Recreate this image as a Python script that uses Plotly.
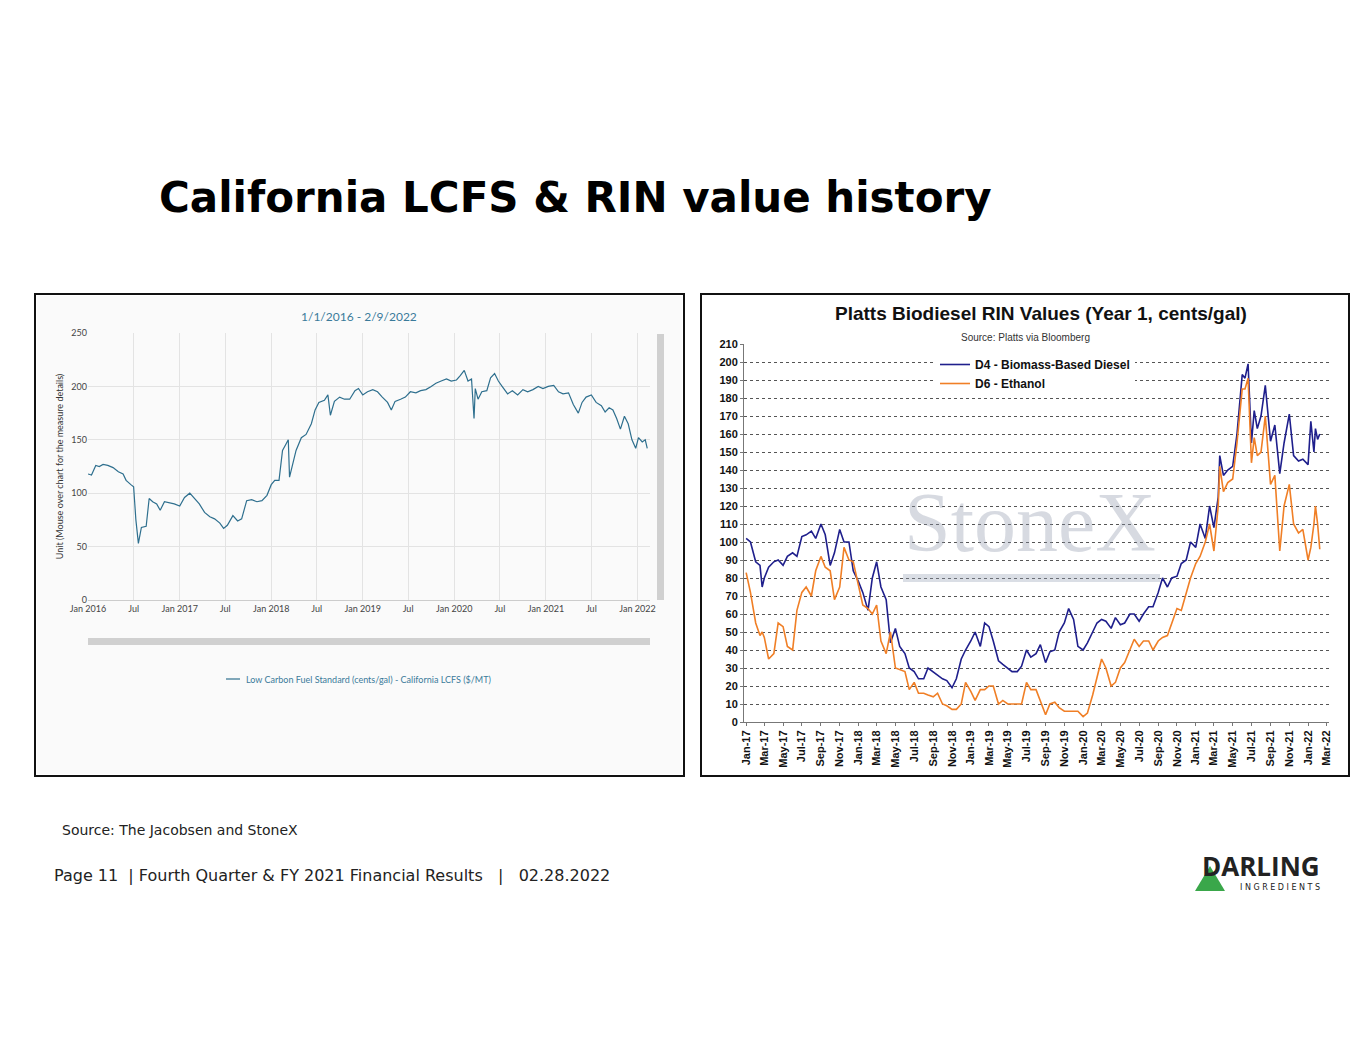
import plotly.graph_objects as go

W, H = 1365, 1055

# ---- Left chart: California LCFS ($/MT) ----
lcfs_dates = [
    "2016-01-01", "2016-01-15", "2016-02-01", "2016-02-15", "2016-03-01", "2016-03-20", "2016-04-10",
    "2016-05-01", "2016-05-20", "2016-06-01", "2016-06-20", "2016-07-01", "2016-07-10", "2016-07-20",
    "2016-08-01", "2016-08-20", "2016-09-01", "2016-09-15", "2016-10-01", "2016-10-15", "2016-11-01",
    "2016-11-20", "2016-12-10", "2017-01-01", "2017-01-20", "2017-02-10", "2017-03-01", "2017-03-20",
    "2017-04-10", "2017-05-01", "2017-05-20", "2017-06-10", "2017-06-25", "2017-07-10", "2017-08-01",
    "2017-08-20", "2017-09-05", "2017-09-25", "2017-10-15", "2017-11-05", "2017-11-25", "2017-12-15",
    "2018-01-01", "2018-01-15", "2018-02-01", "2018-02-15", "2018-03-01", "2018-03-10", "2018-03-15",
    "2018-03-25", "2018-04-10", "2018-05-01", "2018-05-20", "2018-06-10", "2018-06-25", "2018-07-10",
    "2018-08-01", "2018-08-15", "2018-08-25", "2018-09-10", "2018-10-01", "2018-10-20", "2018-11-10",
    "2018-12-01", "2018-12-15", "2019-01-01", "2019-01-20", "2019-02-10", "2019-03-01", "2019-03-20",
    "2019-04-10", "2019-04-25", "2019-05-10", "2019-06-01", "2019-06-20", "2019-07-10", "2019-08-01",
    "2019-08-20", "2019-09-10", "2019-10-01", "2019-10-20", "2019-11-10", "2019-12-01", "2019-12-20",
    "2020-01-10", "2020-01-25", "2020-02-10", "2020-02-25", "2020-03-10", "2020-03-20", "2020-03-25",
    "2020-04-05", "2020-04-20", "2020-05-10", "2020-05-25", "2020-06-10", "2020-06-25", "2020-07-10",
    "2020-08-01", "2020-08-20", "2020-09-10", "2020-10-01", "2020-10-20", "2020-11-10", "2020-12-01",
    "2020-12-20", "2021-01-10", "2021-02-01", "2021-02-20", "2021-03-10", "2021-04-01", "2021-04-20",
    "2021-05-10", "2021-05-25", "2021-06-10", "2021-07-01", "2021-07-20", "2021-08-10", "2021-08-25",
    "2021-09-10", "2021-09-25", "2021-10-10", "2021-10-25", "2021-11-10", "2021-11-25", "2021-12-10",
    "2021-12-25", "2022-01-05", "2022-01-20", "2022-02-01", "2022-02-09",
]
lcfs_values = [
    118, 117, 126, 125, 127, 126, 124,
    120, 118, 112, 108, 106, 75, 53,
    68, 69, 95, 92, 90, 84, 92,
    91, 90, 88, 96, 100, 95, 90,
    82, 78, 76, 72, 67, 70, 79,
    74, 76, 93, 94, 92, 93, 98,
    108, 112, 112, 140, 146, 150, 115,
    125, 140, 152, 155, 165, 178, 185,
    187, 192, 173, 186, 190, 188, 188,
    196, 198, 192, 195, 197, 195, 190,
    185, 178, 186, 188, 190, 195, 194,
    196, 197, 200, 203, 205, 207, 205,
    206, 210, 215, 205, 207, 170, 198,
    188, 195, 196, 208, 212, 205, 200,
    193, 196, 192, 197, 195, 197, 200,
    198, 200, 201, 195, 193, 194, 183,
    175, 185, 190, 192, 185, 182, 176,
    180, 178, 170, 160, 172, 165, 150,
    142, 152, 148, 150, 142,
]
lcfs_tickvals = ["2016-01-01", "2016-07-01", "2017-01-01", "2017-07-01", "2018-01-01", "2018-07-01",
                 "2019-01-01", "2019-07-01", "2020-01-01", "2020-07-01", "2021-01-01", "2021-07-01",
                 "2022-01-01"]
lcfs_ticktext = ["Jan 2016", "Jul", "Jan 2017", "Jul", "Jan 2018", "Jul", "Jan 2019", "Jul",
                 "Jan 2020", "Jul", "Jan 2021", "Jul", "Jan 2022"]

# ---- Right chart: RIN values (cents/gal) ----
rin_dates = [
    "2017-01-01", "2017-01-15", "2017-02-01", "2017-02-15", "2017-02-22", "2017-03-01", "2017-03-15",
    "2017-04-01", "2017-04-15", "2017-05-01", "2017-05-15", "2017-06-01", "2017-06-15", "2017-07-01",
    "2017-07-15", "2017-08-01", "2017-08-15", "2017-09-01", "2017-09-15", "2017-10-01", "2017-10-15",
    "2017-11-01", "2017-11-15", "2017-12-01", "2017-12-15", "2018-01-01", "2018-01-15", "2018-02-01",
    "2018-02-15", "2018-03-01", "2018-03-15", "2018-04-01", "2018-04-15", "2018-05-01", "2018-05-15",
    "2018-06-01", "2018-06-15", "2018-07-01", "2018-07-15", "2018-08-01", "2018-08-15", "2018-09-01",
    "2018-09-15", "2018-10-01", "2018-10-15", "2018-11-01", "2018-11-15", "2018-12-01", "2018-12-15",
    "2019-01-01", "2019-01-15", "2019-02-01", "2019-02-15", "2019-03-01", "2019-03-15", "2019-04-01",
    "2019-04-15", "2019-05-01", "2019-05-15", "2019-06-01", "2019-06-15", "2019-07-01", "2019-07-15",
    "2019-08-01", "2019-08-15", "2019-09-01", "2019-09-15", "2019-10-01", "2019-10-15", "2019-11-01",
    "2019-11-15", "2019-12-01", "2019-12-15", "2020-01-01", "2020-01-15", "2020-02-01", "2020-02-15",
    "2020-03-01", "2020-03-15", "2020-04-01", "2020-04-15", "2020-05-01", "2020-05-15", "2020-06-01",
    "2020-06-15", "2020-07-01", "2020-07-15", "2020-08-01", "2020-08-15", "2020-09-01", "2020-09-15",
    "2020-10-01", "2020-10-15", "2020-11-01", "2020-11-15", "2020-12-01", "2020-12-15", "2021-01-01",
    "2021-01-15", "2021-02-01", "2021-02-15", "2021-03-01", "2021-03-15", "2021-03-20", "2021-04-01",
    "2021-04-15", "2021-05-01", "2021-05-15", "2021-06-01", "2021-06-10", "2021-06-20", "2021-07-01",
    "2021-07-10", "2021-07-20", "2021-08-01", "2021-08-15", "2021-09-01", "2021-09-15", "2021-10-01",
    "2021-10-15", "2021-11-01", "2021-11-15", "2021-12-01", "2021-12-15", "2022-01-01", "2022-01-10",
    "2022-01-20", "2022-01-25", "2022-02-01", "2022-02-08",
]
d4_values = [
    102, 100, 89, 87, 75, 80, 86,
    89, 90, 87, 92, 94, 92, 103,
    104, 106, 102, 110, 104, 87, 94,
    107, 100, 100, 84, 78, 72, 62,
    80, 89, 75, 68, 44, 52, 42,
    38, 30, 28, 24, 24, 30, 28,
    26, 24, 23, 19, 24, 35, 40,
    45, 50, 42, 55, 53, 45, 34,
    32, 30, 28, 28, 31, 40, 36,
    38, 43, 33, 39, 40, 50, 55,
    63, 57, 42, 40, 44, 50, 55,
    57, 56, 52, 58, 54, 55, 60,
    60, 56, 60, 64, 64, 72, 80,
    75, 80, 81, 88, 90, 100, 97,
    110, 102, 120, 108, 125, 148, 137,
    140, 142, 160, 193, 191, 199, 155,
    173, 163, 170, 187, 156, 165, 138,
    155, 171, 148, 145, 146, 143, 167,
    150, 163, 157, 160,
]
d6_values = [
    83, 72, 55, 48, 50, 47, 35,
    38, 55, 53, 42, 40, 62, 72,
    75, 70, 84, 92, 86, 84, 68,
    75, 97, 90, 89, 75, 65, 63,
    60, 65, 45, 38, 50, 30, 29,
    28, 18, 22, 16, 16, 15, 14,
    16, 10, 9, 7, 7, 10, 22,
    17, 12, 18, 18, 20, 20, 10,
    12, 10, 10, 10, 10, 22, 18,
    18, 12, 4, 10, 11, 8, 6,
    6, 6, 6, 3, 5, 15, 25,
    35, 30, 20, 22, 30, 33, 40,
    46, 42, 45, 45, 40, 45, 47,
    48, 55, 63, 62, 72, 80, 88,
    92, 100, 110, 95, 120, 142, 128,
    133, 135, 155, 185, 185, 191, 144,
    158, 148, 150, 170, 132, 137, 95,
    120, 132, 110, 105, 107, 90, 97,
    110, 120, 110, 96,
]
rin_tickvals = ["2017-01-01", "2017-03-01", "2017-05-01", "2017-07-01", "2017-09-01", "2017-11-01",
                "2018-01-01", "2018-03-01", "2018-05-01", "2018-07-01", "2018-09-01", "2018-11-01",
                "2019-01-01", "2019-03-01", "2019-05-01", "2019-07-01", "2019-09-01", "2019-11-01",
                "2020-01-01", "2020-03-01", "2020-05-01", "2020-07-01", "2020-09-01", "2020-11-01",
                "2021-01-01", "2021-03-01", "2021-05-01", "2021-07-01", "2021-09-01", "2021-11-01",
                "2022-01-01", "2022-03-01"]
rin_ticktext = ["Jan-17", "Mar-17", "May-17", "Jul-17", "Sep-17", "Nov-17",
                "Jan-18", "Mar-18", "May-18", "Jul-18", "Sep-18", "Nov-18",
                "Jan-19", "Mar-19", "May-19", "Jul-19", "Sep-19", "Nov-19",
                "Jan-20", "Mar-20", "May-20", "Jul-20", "Sep-20", "Nov-20",
                "Jan-21", "Mar-21", "May-21", "Jul-21", "Sep-21", "Nov-21",
                "Jan-22", "Mar-22"]


def px(x):
    return x / W


def py(y):
    return 1 - y / H


fig = go.Figure()
fig.add_trace(go.Scatter(x=lcfs_dates, y=lcfs_values, mode="lines", xaxis="x", yaxis="y",
                         line=dict(color="#2e6f8e", width=1.2), showlegend=False))
fig.add_trace(go.Scatter(x=rin_dates, y=d4_values, mode="lines", xaxis="x2", yaxis="y2",
                         name="<b>D4 - Biomass-Based Diesel</b>", line=dict(color="#1f1f8c", width=1.6)))
fig.add_trace(go.Scatter(x=rin_dates, y=d6_values, mode="lines", xaxis="x2", yaxis="y2",
                         name="<b>D6 - Ethanol</b>", line=dict(color="#f07f26", width=1.6)))

small = dict(family="Lato, DejaVu Sans", size=9, color="#444")
rin_tick = dict(family="Liberation Sans Narrow, Arial", size=11, color="#111", weight="bold")

fig.update_layout(
    width=W, height=H, margin=dict(l=0, r=0, t=0, b=0, autoexpand=False),
    paper_bgcolor="white", plot_bgcolor="rgba(0,0,0,0)",
    xaxis=dict(domain=[px(88), px(650)], anchor="y", range=["2016-01-01", "2022-02-20"],
               tickvals=lcfs_tickvals, ticktext=lcfs_ticktext, tickangle=0, tickfont=small,
               showgrid=True, gridcolor="#e3e3e3", showline=True, linecolor="#ccc", ticks="",
               automargin=False),
    yaxis=dict(domain=[py(600), py(333)], anchor="x", range=[0, 250], dtick=50, tickfont=small,
               gridcolor="#e3e3e3", zeroline=False, automargin=False,
               title=dict(text="Unit (Mouse over chart for the measure details)",
                          font=dict(family="Lato, DejaVu Sans", size=9, color="#333"), standoff=6)),
    xaxis2=dict(domain=[px(744), px(1329)], anchor="y2", range=["2016-12-25", "2022-03-10"],
                tickvals=rin_tickvals, ticktext=rin_ticktext, tickangle=-90, tickfont=rin_tick,
                showgrid=False, showline=True, linecolor="#777", ticks="outside", ticklen=3,
                tickcolor="#777", automargin=False),
    yaxis2=dict(domain=[py(722), py(344)], anchor="x2", range=[0, 210], dtick=10, tickfont=rin_tick,
                showline=True, linecolor="#777", zeroline=False, automargin=False,
                gridcolor="#555", griddash="dot", gridwidth=1, ticks="outside", ticklen=3,
                tickcolor="#777"),
    legend=dict(x=px(935), y=py(350), xanchor="left", yanchor="top", bgcolor="white",
                font=dict(family="Liberation Sans Narrow, Arial", size=12, color="#111"),
                tracegroupgap=4, itemwidth=30),
)

shapes = [
    dict(type="rect", xref="paper", yref="paper", x0=px(37), x1=px(682), y0=py(774), y1=py(296),
         line=dict(width=0), fillcolor="#fafafa", layer="below"),
    dict(type="rect", xref="paper", yref="paper", x0=px(35), x1=px(684), y0=py(776), y1=py(294),
         line=dict(color="#111", width=2), fillcolor="rgba(0,0,0,0)"),
    dict(type="rect", xref="paper", yref="paper", x0=px(701), x1=px(1349), y0=py(776), y1=py(294),
         line=dict(color="#111", width=2), fillcolor="rgba(0,0,0,0)"),
    dict(type="rect", xref="paper", yref="paper", x0=px(88), x1=px(650), y0=py(645), y1=py(638),
         line=dict(width=0), fillcolor="#d0d0d0"),
    dict(type="rect", xref="paper", yref="paper", x0=px(657), x1=px(664), y0=py(600), y1=py(334),
         line=dict(width=0), fillcolor="#d0d0d0"),
    dict(type="line", xref="paper", yref="paper", x0=px(226), x1=px(240), y0=py(679), y1=py(679),
         line=dict(color="#2e6f8e", width=1.2)),
    dict(type="rect", xref="paper", yref="paper", x0=px(903), x1=px(1160), y0=py(582), y1=py(574),
         line=dict(width=0), fillcolor="rgba(150,160,180,0.35)"),
    dict(type="path", xref="paper", yref="paper",
         path=f"M {px(1210)},{py(866)} L {px(1195)},{py(891)} L {px(1225)},{py(891)} Z",
         line=dict(width=0), fillcolor="#3aa74a"),
]
fig.update_layout(shapes=shapes)

ann = [
    dict(text="<b>California LCFS & RIN value history</b>", x=px(157), y=py(198),
         font=dict(family="Verdana, DejaVu Sans", size=42, color="#000")),
    dict(text="1/1/2016 - 2/9/2022", x=px(359), y=py(316), xanchor="center",
         font=dict(family="Lato, DejaVu Sans", size=12, color="#3a7a9a")),
    dict(text="Low Carbon Fuel Standard (cents/gal) - California LCFS ($/MT)", x=px(244), y=py(679),
         font=dict(family="Lato, DejaVu Sans", size=9, color="#3a7a9a")),
    dict(text="<b>Platts Biodiesel RIN Values (Year 1, cents/gal)</b>", x=px(1041), y=py(314),
         xanchor="center", font=dict(family="Liberation Sans Narrow, Arial", size=19, color="#111")),
    dict(text="Source: Platts via Bloomberg", x=px(1025), y=py(337), xanchor="center",
         font=dict(family="Liberation Sans Narrow, Arial", size=10, color="#333")),
    dict(text="StoneX", x=px(1030), y=py(522), xanchor="center",
         font=dict(family="Liberation Serif, DejaVu Serif", size=84, color="rgba(140,150,170,0.35)")),
    dict(text="Source: The Jacobsen and StoneX", x=px(60), y=py(830),
         font=dict(family="Verdana, DejaVu Sans", size=14, color="#222")),
    dict(text="Page 11  | Fourth Quarter & FY 2021 Financial Results   |   02.28.2022", x=px(52), y=py(875),
         font=dict(family="Verdana, DejaVu Sans", size=16, color="#222")),
    dict(text="<b>DARLING</b>", x=px(1322), y=py(866), xanchor="right",
         font=dict(family="Open Sans, DejaVu Sans", size=26, color="#222")),
    dict(text="I N G R E D I E N T S", x=px(1322), y=py(887), xanchor="right",
         font=dict(family="DejaVu Sans", size=8, color="#222")),
]
for a in ann:
    a.setdefault("xanchor", "left")
    a.update(xref="paper", yref="paper", yanchor="middle", showarrow=False)
fig.update_layout(annotations=ann)

fig.write_html("out.html", config={"displayModeBar": False},
               post_script="document.body.style.margin='0';")
